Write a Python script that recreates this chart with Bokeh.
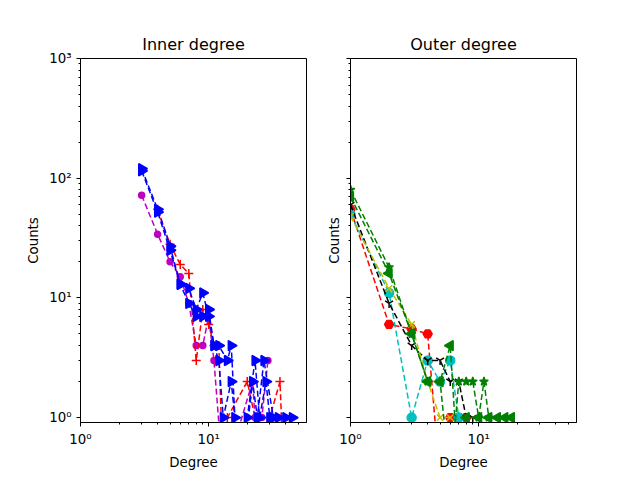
import math
from bokeh.plotting import figure
from bokeh.layouts import row
from bokeh.models import FixedTicker
from bokeh.embed import file_html
from bokeh.resources import INLINE

# zero counts are drawn below the axis so the dashed lines drop off the bottom
Z = 0.3

# --- inner degree series
in_blue1_x = [3, 4, 5, 6, 7, 8, 9, 10, 11, 12, 14, 15, 17, 20, 23, 25, 28, 30, 35, 45]
in_blue1_y = [120, 55, 27, 13, 12, 8, 11, 7, 4, 4, 3, 4, Z, 1, 3, 1, 2, 1, 1, 1]
in_blue2_x = [3, 4, 5, 6, 7, 8, 9, 10, 11, 12, 13, 15, 16, 18, 22, 24, 27, 32, 40]
in_blue2_y = [115, 52, 25, 13, 9, 7, 7, 8, 4, 3, 1, 2, 1, Z, 2, 1, 3, 1, 1]
in_mag_x = [3, 4, 5, 6, 7, 8, 9, 10, 11, 13, 22, 23, 26, 29]
in_mag_y = [72, 34, 20, 15, 9, 4, 4, 7, 3, Z, 2, 1, 1, 3]
in_red_x = [4, 5, 6, 7, 8, 9, 10, 11, 12, 13, 14, 20, 23, 30, 36, 37]
in_red_y = [55, 28, 19, 16, 3, 8, 6, 4, 4, Z, 1, 2, 1, 1, 2, 1]

# --- outer degree series
out_red_x = [1, 2, 3, 4, 5, 6, 7, 8]
out_red_y = [55, 6, 5.5, 5, Z, 1, 1, 1]
out_cyan_x = [1, 2, 3, 4, 5, 6, 7]
out_cyan_y = [50, 11, 1, 3, 2, 3, 1]
out_black_x = [1, 2, 3, 4, 5, 6, 7, 8, 9]
out_black_y = [60, 9, 4, 3, 3, 2, 2, 1, 1]
out_yel_x = [1, 2, 3, 4, 5, 6]
out_yel_y = [48, 12, 6, 2, 1, 1]
out_gstar_x = [1, 2, 3, 4, 5, 6, 7, 8, 9, 10, 11, 12]
out_gstar_y = [80, 18, 5, 2, 2, Z, 2, 2, 2, 1, 2, 1]
out_gtri_x = [1, 2, 3, 4, 5, 6, 7, 8, 10, 12, 14, 16, 18]
out_gtri_y = [70, 16, 5, 2, 2, 4, Z, 1, 1, 1, 1, 1, 1]

tick_labels = {1: "10⁰", 10: "10¹", 100: "10²", 1000: "10³"}


def make_fig(title, left, right, show_ylabels):
    p = figure(width=left + 226 + right, height=472, x_axis_type="log", y_axis_type="log",
               x_range=(1, 58), y_range=(0.91, 1000), title=title,
               output_backend="svg", toolbar_location=None,
               min_border_left=left, min_border_right=right, min_border_top=58, min_border_bottom=45)
    p.title.align = "center"
    p.title.text_font = "DejaVu Sans"
    p.title.text_font_size = "12pt"
    p.title.text_font_style = "normal"
    p.title.text_color = "black"
    p.xgrid.visible = False
    p.ygrid.visible = False
    p.outline_line_color = "black"
    p.xaxis.axis_label = "Degree"
    p.yaxis.axis_label = "Counts"
    p.xaxis.ticker = FixedTicker(ticks=[1, 10], minor_ticks=[2, 3, 4, 5, 6, 7, 8, 9, 20, 30, 40, 50])
    p.yaxis.ticker = FixedTicker(ticks=[1, 10, 100, 1000],
                                 minor_ticks=[m * d for d in (1, 10, 100) for m in range(2, 10)])
    p.xaxis.major_label_overrides = tick_labels
    if show_ylabels:
        p.yaxis.major_label_overrides = tick_labels
    else:
        p.yaxis.major_label_overrides = {1: "", 10: "", 100: "", 1000: ""}
    for ax in (p.xaxis, p.yaxis):
        ax.axis_label_text_font = "DejaVu Sans"
        ax.axis_label_text_font_style = "normal"
        ax.axis_label_text_font_size = "10pt"
        ax.axis_label_text_color = "black"
        ax.major_label_text_font = "DejaVu Sans"
        ax.major_label_text_font_size = "10pt"
        ax.major_label_text_color = "black"
        ax.axis_line_color = "black"
        ax.major_tick_line_color = "black"
        ax.minor_tick_line_color = "black"
        ax.major_tick_in = 0
        ax.major_tick_out = 4
        ax.minor_tick_in = 0
        ax.minor_tick_out = 2
    return p


def series(p, x, y, color, marker, angle=0.0, size=8):
    p.line(x, y, line_color=color, line_width=1.5, line_dash="6 3")
    p.scatter(x, y, marker=marker, size=size, angle=angle, color=color, line_width=1.5)


p1 = make_fig("Inner degree", 80, 10, True)
series(p1, in_mag_x, in_mag_y, "#bf00bf", "circle", size=6)
series(p1, in_red_x, in_red_y, "red", "cross", size=9)
series(p1, in_blue2_x, in_blue2_y, "blue", "triangle", angle=-math.pi / 2, size=10)
series(p1, in_blue1_x, in_blue1_y, "blue", "triangle", angle=-math.pi / 2, size=10)

p2 = make_fig("Outer degree", 34, 40, False)
series(p2, out_red_x, out_red_y, "red", "hex", size=9)
series(p2, out_cyan_x, out_cyan_y, "#00bfbf", "circle", size=9)
series(p2, out_black_x, out_black_y, "black", "y", size=9)
series(p2, out_yel_x, out_yel_y, "#bfbf00", "x", size=9)
series(p2, out_gstar_x, out_gstar_y, "green", "star", size=9)
series(p2, out_gtri_x, out_gtri_y, "green", "triangle", angle=math.pi / 2, size=10)

layout = row(p1, p2)
open("out.html", "w").write(file_html(layout, INLINE))
